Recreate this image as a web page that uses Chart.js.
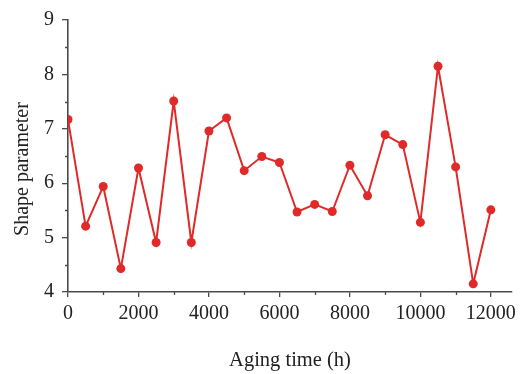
<!DOCTYPE html>
<html>
<head>
<meta charset="utf-8">
<style>
  html, body { margin: 0; padding: 0; background: #ffffff; }
  #wrap { width: 524px; height: 374px; position: relative; }
</style>
<script src="https://cdn.jsdelivr.net/npm/chart.js@4.4.1/dist/chart.umd.min.js"></script>
</head>
<body>
<div id="wrap"><canvas id="c" width="524" height="374"></canvas></div>
<script>
const agingTime = [0, 500, 1000, 1500, 2000, 2500, 3000, 3500, 4000, 4500, 5000, 5500, 6000,
                   6500, 7000, 7500, 8000, 8500, 9000, 9500, 10000, 10500, 11000, 11500, 12000];
const shapeParameter = [7.17, 5.21, 5.94, 4.43, 6.28, 4.91, 7.51, 4.91, 6.96, 7.20, 6.23, 6.49, 6.38,
                        5.47, 5.61, 5.48, 6.33, 5.77, 6.89, 6.71, 5.28, 8.15, 6.30, 4.15, 5.51];
const xTickValues = [0, 2000, 4000, 6000, 8000, 10000, 12000];
const xMinorTicks = [1000, 3000, 5000, 7000, 9000, 11000];
const yTickValues = [4, 5, 6, 7, 8, 9];
const yMinorTicks = [4.5, 5.5, 6.5, 7.5, 8.5];
const xTitle = 'Aging time (h)';
const yTitle = 'Shape parameter';

const AXIS_COLOR = '#4a4a4a';
const RED = '#e02a2a';
const FONT = 'Liberation Serif';

const extras = {
  id: 'extras',
  afterDraw(chart) {
    const ctx = chart.ctx;
    const xs = chart.scales.x, ys = chart.scales.y;
    ctx.save();
    ctx.strokeStyle = AXIS_COLOR;
    ctx.lineWidth = 1.3;
    ctx.beginPath();
    xMinorTicks.forEach(v => {
      const px = Math.round(xs.getPixelForValue(v)) + 0.5;
      ctx.moveTo(px, xs.top);
      ctx.lineTo(px, xs.top + 3);
    });
    yMinorTicks.forEach(v => {
      const py = Math.round(ys.getPixelForValue(v)) + 0.5;
      ctx.moveTo(ys.right, py);
      ctx.lineTo(ys.right - 3, py);
    });
    ctx.stroke();
    // y-axis title, centred slightly below the middle of the axis as in the original
    const cy = (ys.top + ys.bottom) / 2 + 13;
    ctx.translate(ys.left + 23, cy);
    ctx.rotate(-Math.PI / 2);
    ctx.fillStyle = '#222';
    ctx.font = '20px "' + FONT + '"';
    ctx.textAlign = 'center';
    ctx.textBaseline = 'middle';
    ctx.fillText(yTitle, 0, 0);
    ctx.restore();
  }
};

new Chart(document.getElementById('c'), {
  type: 'line',
  data: {
    datasets: [{
      data: agingTime.map((x, i) => ({ x: x, y: shapeParameter[i] })),
      borderColor: RED,
      backgroundColor: RED,
      borderWidth: 2,
      pointRadius: 4.5,
      pointBorderWidth: 0,
      pointBackgroundColor: RED,
      tension: 0,
      fill: false
    }]
  },
  plugins: [extras],
  options: {
    responsive: false,
    animation: false,
    devicePixelRatio: 1,
    layout: { padding: { top: 19, right: 12, left: 0, bottom: 0 } },
    plugins: { legend: { display: false }, tooltip: { enabled: false } },
    scales: {
      x: {
        type: 'linear',
        min: 0,
        max: 12600,
        afterBuildTicks: s => { s.ticks = xTickValues.map(v => ({ value: v })); },
        afterFit: s => { s.height = 82; },
        grid: { display: true, drawOnChartArea: false, drawTicks: true, tickLength: 5, color: AXIS_COLOR, tickColor: AXIS_COLOR, lineWidth: 1.3 },
        border: { display: true, color: AXIS_COLOR, width: 1.6 },
        ticks: { color: '#222', font: { family: FONT, size: 20 }, padding: 5, maxRotation: 0, autoSkip: false,
                 callback: v => String(v) },
        title: { display: true, text: xTitle, color: '#222', font: { family: FONT, size: 20.5 }, padding: { top: 0, bottom: 1 } }
      },
      y: {
        type: 'linear',
        min: 4,
        max: 9,
        afterBuildTicks: s => { s.ticks = yTickValues.map(v => ({ value: v })); },
        afterFit: s => { s.width = 68; },
        grid: { display: true, drawOnChartArea: false, drawTicks: true, tickLength: 6, color: AXIS_COLOR, tickColor: AXIS_COLOR, lineWidth: 1.3 },
        border: { display: true, color: AXIS_COLOR, width: 1.6 },
        ticks: { color: '#222', font: { family: FONT, size: 20 }, padding: 8, autoSkip: false,
                 callback: v => String(v) },
        title: { display: false }
      }
    }
  }
});
</script>
</body>
</html>
